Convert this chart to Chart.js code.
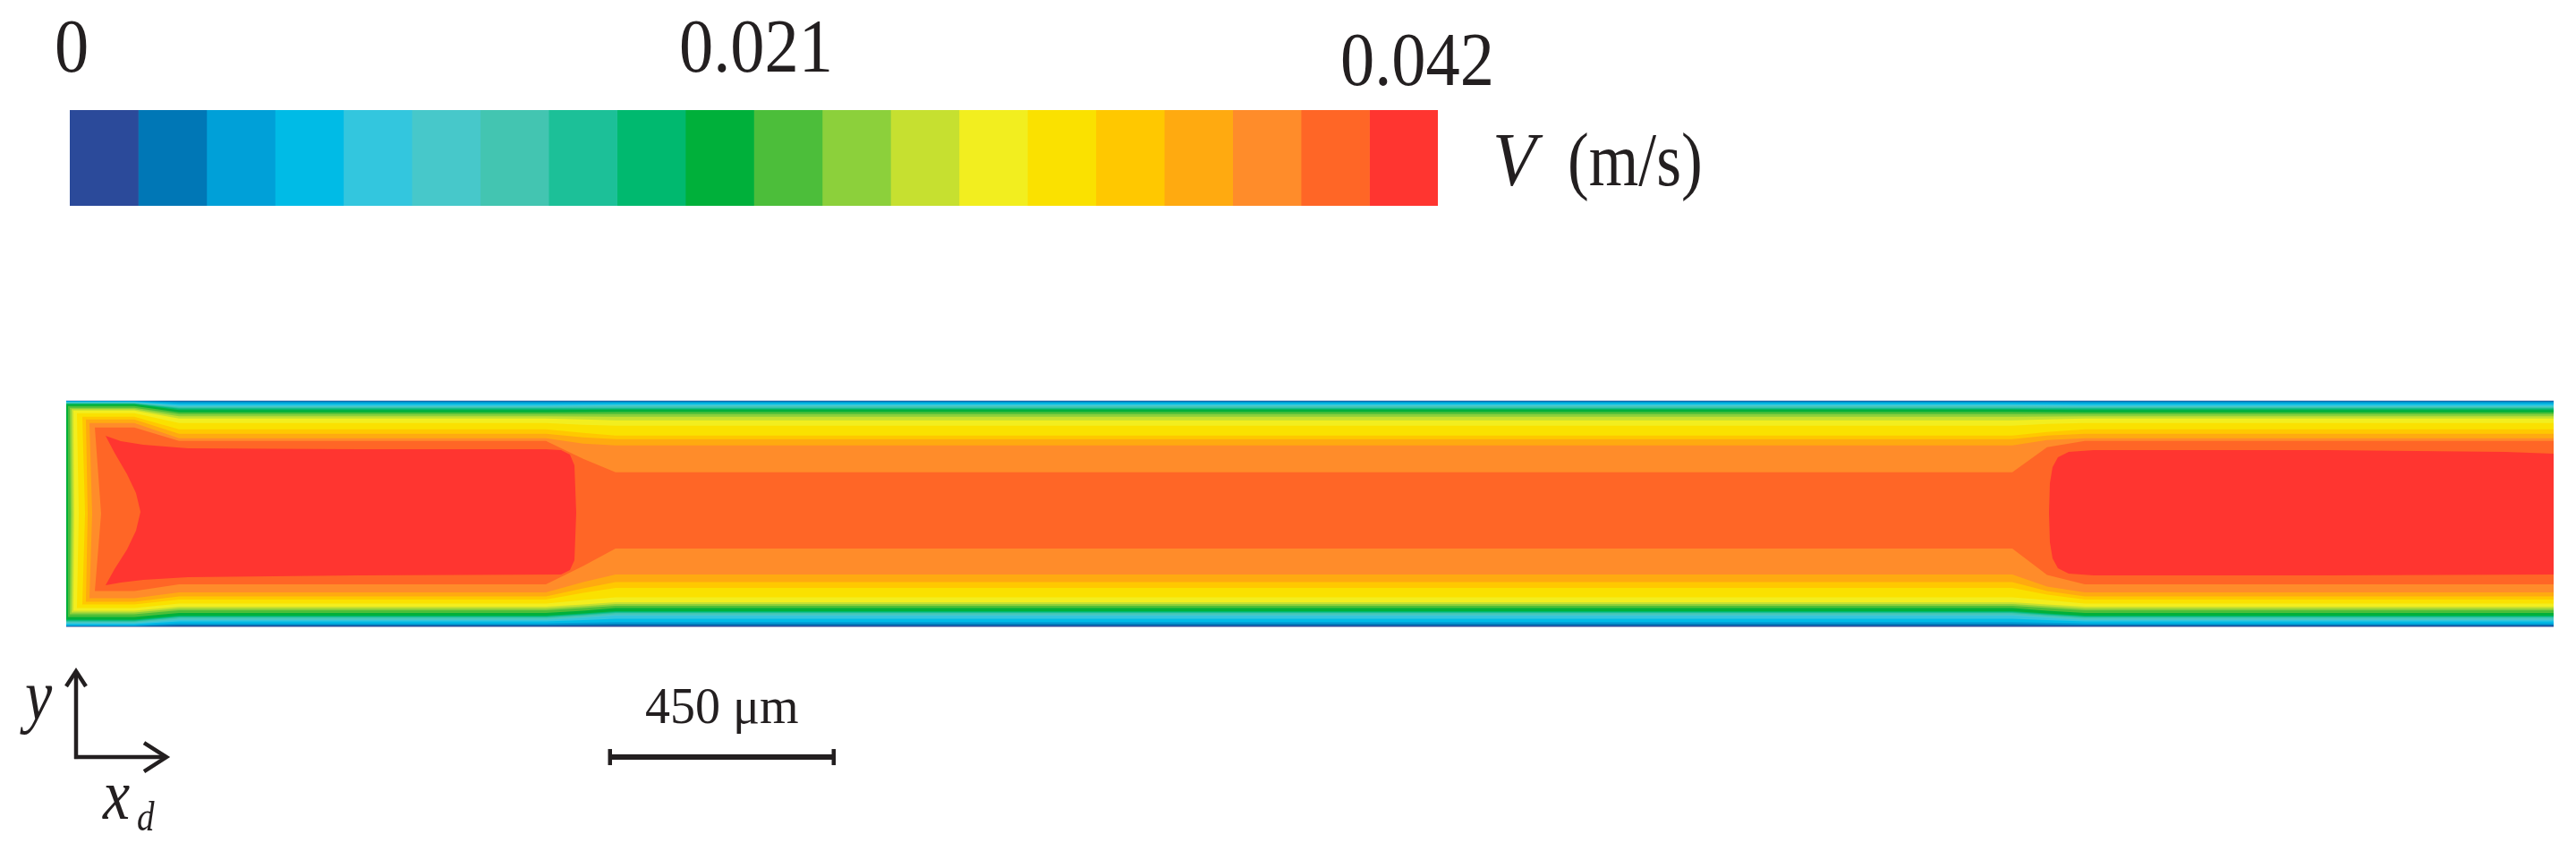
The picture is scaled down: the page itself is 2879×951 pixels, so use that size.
<!DOCTYPE html>
<html>
<head>
<meta charset="utf-8">
<script src="https://cdn.jsdelivr.net/npm/chart.js@4/dist/chart.umd.min.js"></script>
<style>
html,body{margin:0;padding:0;background:#ffffff;}
#wrap{position:relative;width:2879px;height:951px;overflow:hidden;}
#wrap canvas{position:absolute;left:0;top:0;}
</style>
</head>
<body>
<div id="wrap">
  <canvas id="field" width="2879" height="951"></canvas>
  <canvas id="bar" width="2879" height="951"></canvas>
</div>
<script>
// ---------------- DATA ----------------
// 20 colour bands of the velocity legend, V (m/s)
const levelEdges = [0, 0.0021, 0.0042, 0.0063, 0.0084, 0.0105, 0.0126, 0.0147, 0.0168, 0.0189,
                    0.021, 0.0231, 0.0252, 0.0273, 0.0294, 0.0315, 0.0336, 0.0357, 0.0378, 0.0399, 0.042];
const bandColors = ['#2B4A9A','#0077B6','#00A0D8','#00BBE6','#33C6DE','#47C8CA','#43C5B1','#1CC098',
                    '#00B96F','#00B03A','#4CBE3A','#8CD03B','#C6E030','#F2EE1F','#FAE100','#FFC800',
                    '#FFAA10','#FF8C2A','#FF6626','#FF3530'];
const colorbarTicks = [0, 0.021, 0.042];
const colorbarTitle = 'V';
const colorbarUnit = '(m/s)';

// channel geometry (micrometres)
const channelLength = 5004;
const channelWidth = 455;

// streamwise stations (μm) where the contour boundaries were read
const stationX = [137, 227, 965, 1040, 1105, 3915, 3985, 4061, 5004];

// contour levels 1..18 : distance (μm) of the boundary V = levelEdges[k] from the top wall
const topWallDist = [
  [0.5, 0.9, 0.9, 0.9, 0.9, 0.9, 0.9, 0.9, 0.9],
  [1.1, 2.7, 2.7, 2.7, 2.7, 2.7, 2.7, 2.7, 2.7],
  [1.8, 5.4, 5.4, 5.0, 4.5, 4.5, 5.0, 5.4, 5.4],
  [2.7, 8.1, 8.1, 7.6, 7.2, 7.2, 7.6, 8.1, 8.1],
  [3.6, 10.8, 10.8, 9.9, 9.0, 9.0, 9.9, 10.8, 10.8],
  [4.5, 12.6, 12.6, 12.2, 11.7, 11.7, 12.2, 12.6, 12.6],
  [5.4, 14.4, 14.4, 14.4, 14.4, 14.4, 14.4, 14.4, 14.4],
  [6.3, 16.2, 16.2, 16.2, 16.2, 16.2, 16.2, 16.2, 16.2],
  [7.2, 18.9, 18.9, 18.4, 18.0, 18.0, 18.4, 18.9, 18.9],
  [10.8, 23.4, 23.4, 23.0, 22.5, 22.5, 23.0, 23.4, 23.4],
  [14.4, 27.0, 27.0, 27.0, 27.0, 27.0, 27.0, 27.0, 27.0],
  [17.1, 31.5, 31.5, 32.0, 32.4, 32.4, 32.0, 31.5, 31.5],
  [19.8, 36.0, 36.0, 37.8, 39.6, 39.6, 37.8, 36.0, 36.0],
  [25.2, 45.0, 45.0, 48.6, 50.4, 50.4, 46.8, 45.0, 45.0],
  [32.4, 57.6, 57.6, 64.8, 70.2, 70.2, 63.0, 57.6, 57.6],
  [37.8, 66.6, 66.6, 73.8, 77.4, 77.4, 70.2, 66.6, 66.6],
  [45.0, 75.6, 75.6, 86.4, 90.0, 90.0, 79.2, 75.6, 75.6],
  [54.0, 81.0, 81.0, 117.0, 144.0, 144.0, 93.6, 81.0, 81.0]
];
// same levels : distance (μm) from the bottom wall
const bottomWallDist = [
  [0.9, 2.2, 2.2, 2.5, 2.7, 2.7, 2.5, 2.2, 2.2],
  [1.8, 4.5, 4.5, 5.4, 6.3, 6.3, 5.4, 4.5, 4.5],
  [3.2, 7.2, 7.2, 8.6, 9.9, 9.9, 8.6, 7.2, 7.2],
  [5.4, 10.8, 10.8, 13.5, 16.2, 16.2, 13.5, 10.8, 10.8],
  [7.2, 13.5, 13.5, 18.0, 22.5, 22.5, 18.0, 13.5, 13.5],
  [9.0, 16.2, 16.2, 20.7, 25.2, 25.2, 20.7, 16.2, 16.2],
  [10.8, 18.9, 18.9, 23.4, 27.9, 27.9, 23.4, 18.9, 18.9],
  [12.6, 20.7, 20.7, 25.2, 29.7, 29.7, 25.2, 20.7, 20.7],
  [14.4, 22.5, 22.5, 27.0, 31.5, 31.5, 27.0, 22.5, 22.5],
  [19.8, 27.9, 27.9, 32.4, 37.8, 37.8, 32.4, 27.9, 27.9],
  [25.2, 33.3, 33.3, 37.8, 42.3, 42.3, 37.8, 33.3, 33.3],
  [28.8, 36.9, 36.9, 41.4, 45.9, 45.9, 41.4, 36.9, 36.9],
  [32.4, 40.5, 40.5, 45.0, 49.5, 49.5, 45.0, 40.5, 40.5],
  [37.8, 46.8, 46.8, 54.0, 59.4, 59.4, 54.0, 46.8, 46.8],
  [45.0, 54.9, 54.9, 68.4, 78.3, 78.3, 64.8, 54.9, 54.9],
  [50.4, 61.2, 61.2, 77.4, 90.0, 90.0, 72.0, 61.2, 61.2],
  [57.6, 69.3, 69.3, 90.0, 105.3, 105.3, 81.0, 69.3, 69.3],
  [72.0, 85.5, 85.5, 122.4, 157.5, 157.5, 104.4, 85.5, 85.5]
];
// inlet end of each level (μm from inlet): at the wall corners and on the centre line
const inletCornerX = [0, 0, 0, 0, 0, 0, 0, 0, 0, 3.6, 7.2, 10.8, 14.4, 21.6, 32.4, 39.6, 46.8, 57.6];
const inletCenterX = [0, 0, 0, 0, 0, 0, 0, 0, 0, 3.6, 9.0, 12.6, 16.2, 25.2, 37.8, 43.2, 52.2, 70.2];

// highest band (V > 0.0399 m/s): outlines [x, y] in μm of the two red cores
const bubble1Outline = [
  [79.2,384.3],[109.8,373.5],[154.8,366.3],[244.8,359.1],[586.8,357.3],[964.8,357.3],[995.4,355.5],
  [1013.4,346.5],[1022.4,324.9],[1026,229.5],[1022.4,134.1],[1013.4,114.3],[995.4,105.3],[586.8,103.5],
  [244.8,99.9],[154.8,94.5],[109.8,89.1],[79.2,83.7],[97.2,116.1],[122.4,155.7],[140.4,193.5],
  [149.4,231.3],[140.4,269.1],[122.4,306.9],[97.2,350.1]
];
const bubble2Outline = [
  [3988.8,229.5],[3990.6,288.9],[3996,321.3],[4006.8,341.1],[4028.4,351.9],[4078.8,355.5],[4546.8,355.5],
  [4906.8,351.9],[5004,348.3],[5004,105.3],[4546.8,103.5],[4078.8,103.5],[4028.4,107.1],[4006.8,117.9],
  [3996,137.7],[3990.6,170.1]
];

// annotations (μm)
const scaleBarLength = 450;
const scaleBarStart = 1094;
const annotationY = -262;
const axesOriginX = 19.8;

// ---------------- RENDERING ----------------
const ink = '#231f20';

function drawText(ctx, str, x, y, font, sx, align) {
  ctx.save();
  ctx.font = font;
  ctx.textAlign = align || 'left';
  ctx.textBaseline = 'alphabetic';
  ctx.translate(x, y);
  ctx.scale(sx, 1);
  ctx.fillText(str, 0, 0);
  ctx.restore();
}

function polygonDataset(points, color, order) {
  return {
    data: points,
    showLine: true,
    fill: 'shape',
    backgroundColor: color,
    borderWidth: 0,
    pointRadius: 0,
    pointHoverRadius: 0,
    tension: 0,
    order: order
  };
}

const fieldDatasets = [];
// base band (lowest velocities)
fieldDatasets.push(polygonDataset([
  {x: 0, y: 0}, {x: 0, y: channelWidth}, {x: channelLength, y: channelWidth}, {x: channelLength, y: 0}
], bandColors[0], 100));

for (let j = 0; j < topWallDist.length; j++) {
  const pts = [];
  pts.push({x: inletCornerX[j], y: channelWidth - topWallDist[j][0]});
  for (let i = 0; i < stationX.length; i++) {
    pts.push({x: stationX[i], y: channelWidth - topWallDist[j][i]});
  }
  for (let i = stationX.length - 1; i >= 0; i--) {
    pts.push({x: stationX[i], y: bottomWallDist[j][i]});
  }
  pts.push({x: inletCornerX[j], y: bottomWallDist[j][0]});
  pts.push({x: inletCenterX[j], y: channelWidth / 2});
  fieldDatasets.push(polygonDataset(pts, bandColors[j + 1], 99 - j));
}
[bubble1Outline, bubble2Outline].forEach(function (outline) {
  fieldDatasets.push(polygonDataset(outline.map(function (p) { return {x: p[0], y: p[1]}; }), bandColors[19], 50));
});

const annotationPlugin = {
  id: 'annotations',
  afterDraw(chart) {
    const ctx = chart.ctx;
    const xs = chart.scales.x, ys = chart.scales.y;
    ctx.save();
    ctx.strokeStyle = ink;
    ctx.fillStyle = ink;
    ctx.lineCap = 'butt';
    ctx.lineJoin = 'miter';
    function seg(pts) {
      ctx.beginPath();
      ctx.moveTo(pts[0][0], pts[0][1]);
      for (let i = 1; i < pts.length; i++) ctx.lineTo(pts[i][0], pts[i][1]);
      ctx.stroke();
    }
    // scale bar
    const x0 = xs.getPixelForValue(scaleBarStart);
    const x1 = xs.getPixelForValue(scaleBarStart + scaleBarLength);
    const yb = ys.getPixelForValue(annotationY);
    ctx.lineWidth = 6;
    seg([[x0, yb], [x1, yb]]);
    ctx.lineWidth = 4.5;
    seg([[x0, yb - 9], [x0, yb + 9]]);
    seg([[x1, yb - 9], [x1, yb + 9]]);
    drawText(ctx, scaleBarLength + ' \u03bcm', (x0 + x1) / 2, yb - 38, '56px "Liberation Serif"', 1, 'center');
    // axes indicator
    const ox = xs.getPixelForValue(axesOriginX), oy = yb;
    ctx.lineWidth = 4.5;
    seg([[ox, oy + 2], [ox, oy - 96]]);
    seg([[ox - 2, oy], [ox + 101, oy]]);
    seg([[ox - 11, oy - 79], [ox, oy - 96], [ox + 11, oy - 79]]);
    seg([[ox + 76, oy - 16], [ox + 101, oy], [ox + 76, oy + 16]]);
    drawText(ctx, 'y', ox - 57, oy - 42, 'italic 80px "Liberation Serif"', 0.85, 'left');
    drawText(ctx, 'x', ox + 30, oy + 69, 'italic 80px "Liberation Serif"', 0.85, 'left');
    drawText(ctx, 'd', ox + 68, oy + 82, 'italic 46px "Liberation Serif"', 0.85, 'left');
    ctx.restore();
  }
};

new Chart(document.getElementById('field'), {
  type: 'scatter',
  data: {datasets: fieldDatasets},
  options: {
    responsive: false,
    devicePixelRatio: 1,
    animation: false,
    events: [],
    layout: {padding: {left: 74, right: 25, top: 0, bottom: 0}},
    plugins: {legend: {display: false}, tooltip: {enabled: false}, title: {display: false}},
    scales: {
      x: {type: 'linear', min: 0, max: channelLength, display: false},
      y: {type: 'linear', min: -450.9, max: 1260.9, display: false}
    }
  },
  plugins: [annotationPlugin]
});

// ---------------- COLOUR BAR ----------------
const barDatasets = [];
for (let i = 0; i < bandColors.length; i++) {
  barDatasets.push({
    data: [[levelEdges[i], levelEdges[i + 1]]],
    backgroundColor: bandColors[i],
    borderWidth: 0,
    grouped: false,
    barPercentage: 1,
    categoryPercentage: 1
  });
}

const colorbarPlugin = {
  id: 'colorbarText',
  afterDraw(chart) {
    const ctx = chart.ctx;
    const area = chart.chartArea;
    const xs = chart.scales.x;
    ctx.save();
    ctx.fillStyle = ink;
    const nudge = [[2, 43], [2.5, 43], [-23, 28]];
    colorbarTicks.forEach(function (v, i) {
      drawText(ctx, String(v), xs.getPixelForValue(v) + nudge[i][0], area.top - nudge[i][1],
               '84px "Liberation Serif"', 0.91, 'center');
    });
    const lx = area.right + 61, ly = area.top + 84;
    drawText(ctx, colorbarTitle, lx, ly, 'italic 84px "Liberation Serif"', 0.95, 'left');
    drawText(ctx, colorbarUnit, lx + 84, ly, '84px "Liberation Serif"', 0.85, 'left');
    ctx.restore();
  }
};

new Chart(document.getElementById('bar'), {
  type: 'bar',
  data: {labels: ['V'], datasets: barDatasets},
  options: {
    indexAxis: 'y',
    responsive: false,
    devicePixelRatio: 1,
    animation: false,
    events: [],
    layout: {padding: {left: 78, right: 1272, top: 123, bottom: 721}},
    plugins: {legend: {display: false}, tooltip: {enabled: false}, title: {display: false}},
    scales: {
      x: {type: 'linear', min: 0, max: 0.042, display: false},
      y: {display: false}
    }
  },
  plugins: [colorbarPlugin]
});
</script>
</body>
</html>
